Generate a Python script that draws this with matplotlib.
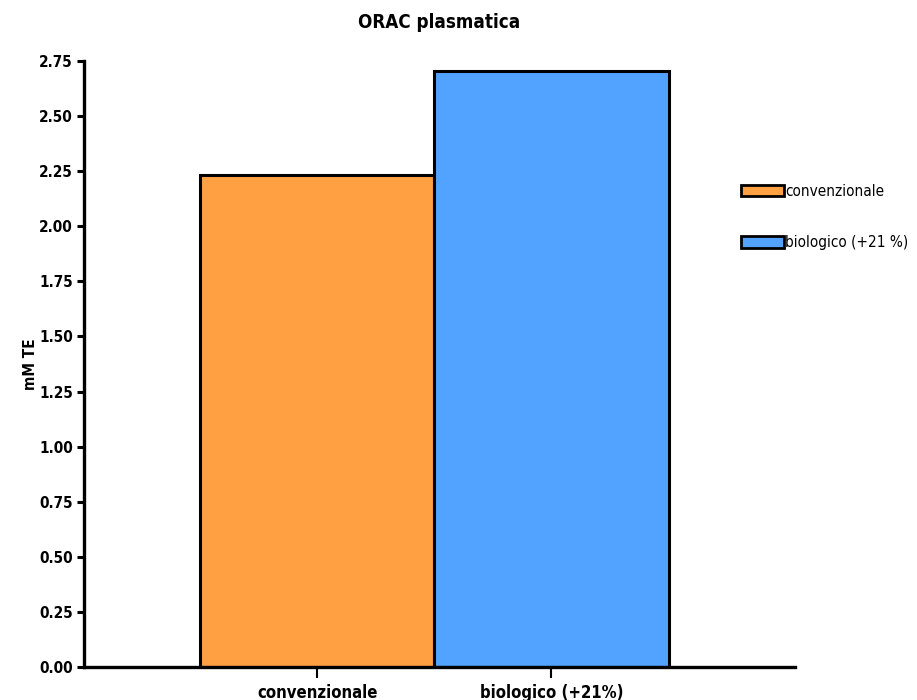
import matplotlib
matplotlib.use("Agg")
import matplotlib.pyplot as plt
from matplotlib.patches import Patch

# --- data ---
categories = ["convenzionale", "biologico (+21%)"]
values = [2.232, 2.704]
legend_labels = ["convenzionale", "biologico (+21 %)"]
colors = ["#FFA143", "#52A2FF"]
yticks = [0.00, 0.25, 0.50, 0.75, 1.00, 1.25, 1.50, 1.75, 2.00, 2.25, 2.50, 2.75]

plt.rcParams["font.family"] = ["DejaVu Sans"]
plt.rcParams["font.stretch"] = "condensed"

fig = plt.figure(figsize=(9.17, 7.0), dpi=100)
ax = fig.add_axes([0.0916, 0.0471, 0.7754, 0.8659])

x = range(len(categories))
ax.bar(x, values, width=1.0, color=colors, edgecolor="black", linewidth=2.2)

ax.set_xlim(-0.996, 2.04)
ax.set_ylim(0, 2.75)
ax.set_yticks(yticks)
ax.set_yticklabels([f"{t:.2f}" for t in yticks], fontsize=11, fontweight="bold")
ax.set_xticks(list(x))
ax.set_xticklabels(categories, fontsize=12, fontweight="bold")

for side in ("top", "right"):
    ax.spines[side].set_visible(False)
for side in ("left", "bottom"):
    ax.spines[side].set_linewidth(2.4)
ax.tick_params(axis="y", direction="out", length=5, width=2.2, pad=3)
ax.tick_params(axis="x", direction="out", length=8, width=1.5, pad=4)

ax.set_ylabel("mM TE", fontsize=11, fontweight="bold")
ax.yaxis.set_label_coords(-0.064, 0.5)
ax.set_title("ORAC plasmatica", fontsize=13.5, fontweight="bold", pad=24)

handles = [Patch(facecolor=c, edgecolor="black", linewidth=2) for c in colors]
ax.legend(handles, legend_labels, loc="upper left", bbox_to_anchor=(0.905, 0.82),
          frameon=False, fontsize=11, handlelength=2.8, handleheight=0.8,
          handletextpad=0.05, labelspacing=2.4)

fig.savefig("out.png", dpi=100)
